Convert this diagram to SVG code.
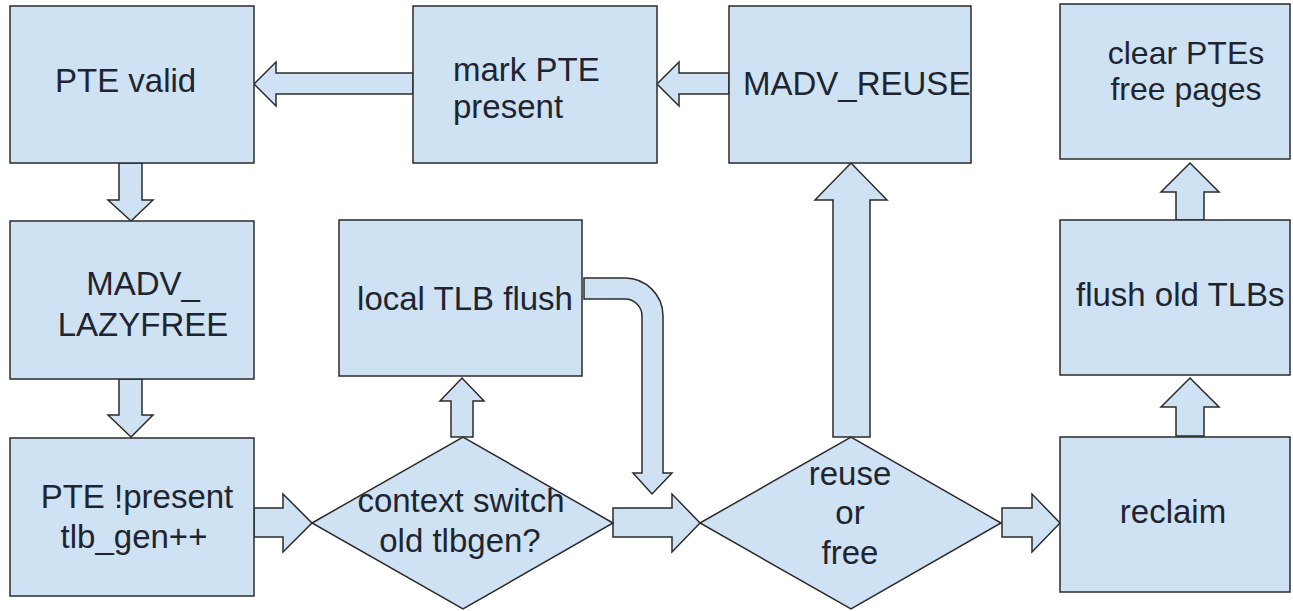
<svg xmlns="http://www.w3.org/2000/svg" width="1293" height="611" viewBox="0 0 1293 611">
<style>
.s{fill:#cfe2f3;stroke:#2b2b2b;stroke-width:1.5}
.t{font-family:"Liberation Sans",Arial,sans-serif;font-size:33px;fill:#1e2530}
.m{text-anchor:middle}
</style>
<rect width="1293" height="611" fill="#ffffff"/>
<g id="connectors">
<polygon class="s" points="413,73 276,73 276,62 254,84 276,106 276,94 413,94"/>
<polygon class="s" points="729,73 679,73 679,62 657,84 679,106 679,94 729,94"/>
<polygon class="s" points="119,163 142,163 142,200 153,200 131,221 108,200 119,200"/>
<polygon class="s" points="119,379 142,379 142,415 153,415 131,437 108,415 119,415"/>
<polygon class="s" points="254,508 283,508 283,494 312,523 283,552 283,537 254,537"/>
<polygon class="s" points="451,437 451,401 440,401 462,378 484,401 473,401 473,437"/>
<path class="s" d="M584 278 L625 278 A38 38 0 0 1 663 316 L663 473 L672 473 L652 494 L633 473 L642 473 L642 316 A17 17 0 0 0 625 299 L584 299 Z"/>
<polygon class="s" points="613,508 672,508 672,494 700,523 672,552 672,537 613,537"/>
<polygon class="s" points="833,437 833,200 815,200 851,163 887,200 870,200 870,437"/>
<polygon class="s" points="1002,508 1032,508 1032,494 1060,523 1032,552 1032,537 1002,537"/>
<polygon class="s" points="1176,436 1176,407 1161,407 1190,378 1219,407 1204,407 1204,436"/>
<polygon class="s" points="1176,220 1176,192 1161,192 1190,163 1219,192 1204,192 1204,220"/>
</g>
<g id="pte-valid"><rect class="s" x="10" y="6" width="244" height="157"/><text class="t" x="55" y="92">PTE valid</text></g>
<g id="mark-pte"><rect class="s" x="413" y="6" width="244" height="157"/><text class="t" x="453" y="81">mark PTE</text><text class="t" x="453" y="118">present</text></g>
<g id="madv-reuse"><rect class="s" x="729" y="6" width="242" height="157"/><text class="t" x="743" y="95">MADV_REUSE</text></g>
<g id="clear-ptes"><rect class="s" x="1060" y="4" width="230" height="155"/><text class="t m" x="1186" y="64" style="font-size:32px">clear PTEs</text><text class="t m" x="1186" y="100" style="font-size:32px">free pages</text></g>
<g id="madv-lazyfree"><rect class="s" x="10" y="221" width="244" height="158"/><text class="t m" x="143" y="295">MADV_</text><text class="t m" x="143" y="336">LAZYFREE</text></g>
<g id="local-tlb"><rect class="s" x="339" y="220" width="243" height="156"/><text class="t m" x="465" y="310">local TLB flush</text></g>
<g id="flush-old"><rect class="s" x="1060" y="220" width="230" height="155"/><text class="t" x="1076" y="306">flush old TLBs</text></g>
<g id="pte-not-present"><rect class="s" x="10" y="438" width="244" height="158"/><text class="t m" x="137" y="508">PTE !present</text><text class="t m" x="134" y="548">tlb_gen++</text></g>
<g id="context-switch"><polygon class="s" points="312,523 463,437 613,523 463,609"/><text class="t m" x="461" y="512">context switch</text><text class="t m" x="460" y="552">old tlbgen?</text></g>
<g id="reuse-or-free"><polygon class="s" points="700,523 851,437 1001,523 851,609"/><text class="t m" x="850" y="485">reuse</text><text class="t m" x="850" y="524">or</text><text class="t m" x="850" y="564">free</text></g>
<g id="reclaim"><rect class="s" x="1060" y="437" width="230" height="155"/><text class="t m" x="1173" y="523">reclaim</text></g>
</svg>
